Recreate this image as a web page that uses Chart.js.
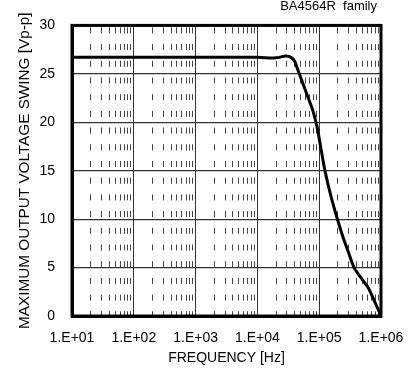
<!DOCTYPE html>
<html>
<head>
<meta charset="utf-8">
<script src="https://cdn.jsdelivr.net/npm/chart.js@4.4.0/dist/chart.umd.min.js"></script>
<style>
  html, body { margin: 0; padding: 0; background: #fff; }
  #wrap { width: 420px; height: 385px; }
</style>
</head>
<body>
<div id="wrap"><canvas id="myChart" width="420" height="385"></canvas></div>
<script>
// frequenza [Hz] e tensione massima in uscita [Vp-p]
var frequenze = [10, 100, 1000, 10000, 20000, 29000, 35000, 40000, 47500, 56000, 66500, 78000, 91000, 106000, 124000, 153000, 197000, 244000, 300000, 367000, 480000, 624000, 800000, 1000000];
var tensioni = [26.7, 26.7, 26.7, 26.7, 26.65, 26.85, 26.7, 26.3, 25.0, 23.8, 22.5, 21.3, 19.7, 17.4, 15.0, 12.5, 10.0, 8.1, 6.5, 5.0, 3.9, 2.9, 1.4, 0.0];

// tick dell'asse x (decadi) e relative etichette
var decadi = [10, 100, 1000, 10000, 100000, 1000000];
var etichette_x = ['1.E+01', '1.E+02', '1.E+03', '1.E+04', '1.E+05', '1.E+06'];
var moltiplicatori_minori = [2, 3, 4, 5, 6, 7, 8, 9];
var tick_y = [0, 5, 10, 15, 20, 25, 30];
var titolo = 'BA4564R  family';

var font_base = 'Liberation Sans, Arial, Helvetica, sans-serif';

// creo i punti della curva
var punti = [];
for (var i = 0; i < frequenze.length; i++) {
    punti.push({ x: frequenze[i], y: tensioni[i] });
}

// tick minori (2..9 per ogni decade)
var tick_minori = [];
for (var d = 0; d < decadi.length - 1; d++) {
    for (var m = 0; m < moltiplicatori_minori.length; m++) {
        tick_minori.push(decadi[d] * moltiplicatori_minori[m]);
    }
}

// cornice spessa intorno all'area del grafico + titolo in alto a destra
var cornice = {
    id: 'cornice',
    afterDraw: function(chart) {
        var a = chart.chartArea;
        var ctx = chart.ctx;
        ctx.save();
        ctx.strokeStyle = '#000';
        ctx.lineWidth = 3;
        ctx.strokeRect(a.left, a.top, a.right - a.left, a.bottom - a.top);

        ctx.fillStyle = '#000';
        ctx.font = '13px ' + font_base;
        ctx.textAlign = 'right';
        ctx.textBaseline = 'alphabetic';
        ctx.fillText(titolo, a.right - 4, 10);
        ctx.restore();
    }
};

var ctx = document.getElementById('myChart').getContext('2d');

var myChart = new Chart(ctx, {
    type: 'line',
    data: {
        datasets: [{
            label: titolo,
            data: punti,
            borderColor: '#000',
            borderWidth: 3,
            pointRadius: 0,
            fill: false,
            tension: 0.3
        }]
    },
    options: {
        responsive: false,
        animation: false,
        layout: {
            padding: { left: 10, right: 39, top: 15, bottom: 18 }
        },
        plugins: {
            legend: { display: false },
            tooltip: { enabled: false },
            title: { display: false }
        },
        scales: {
            x: {
                type: 'logarithmic',
                position: 'bottom',
                min: 10,
                max: 1000000,
                afterBuildTicks: function(scale) {
                    scale.ticks = decadi.map(function(v) { return { value: v }; });
                },
                afterFit: function(scale) {
                    scale.height = 51;
                },
                ticks: {
                    autoSkip: false,
                    maxRotation: 0,
                    padding: 14,
                    color: '#000',
                    font: { family: font_base, size: 14 },
                    callback: function(value) {
                        var idx = decadi.indexOf(value);
                        return idx >= 0 ? etichette_x[idx] : '';
                    }
                },
                grid: {
                    color: '#333',
                    lineWidth: 1,
                    drawTicks: false
                },
                border: { display: true, color: '#000', width: 3 },
                title: {
                    display: true,
                    text: 'FREQUENCY [Hz]',
                    color: '#000',
                    font: { family: font_base, size: 14 },
                    padding: { top: 0, bottom: 0 }
                }
            },
            xMinori: {
                type: 'logarithmic',
                position: 'bottom',
                min: 10,
                max: 1000000,
                afterBuildTicks: function(scale) {
                    scale.ticks = tick_minori.map(function(v) { return { value: v }; });
                },
                afterFit: function(scale) {
                    scale.height = 0;
                },
                ticks: { display: false },
                grid: {
                    color: '#444',
                    lineWidth: 1,
                    drawTicks: false
                },
                border: { display: false, dash: [6, 10.7], dashOffset: -2 }
            },
            y: {
                min: 0,
                max: 30,
                afterBuildTicks: function(scale) {
                    scale.ticks = tick_y.map(function(v) { return { value: v }; });
                },
                afterFit: function(scale) {
                    scale.width = 62;
                },
                ticks: {
                    padding: 17,
                    color: '#000',
                    font: { family: font_base, size: 14 }
                },
                grid: {
                    color: '#333',
                    lineWidth: 1.2,
                    drawTicks: false
                },
                border: { display: true, color: '#000', width: 3 },
                title: {
                    display: true,
                    text: 'MAXIMUM OUTPUT VOLTAGE SWING [Vp-p]',
                    color: '#000',
                    font: { family: font_base, size: 15.3 },
                    padding: { top: 6, bottom: 0 }
                }
            }
        }
    },
    plugins: [cornice]
});
</script>
</body>
</html>
